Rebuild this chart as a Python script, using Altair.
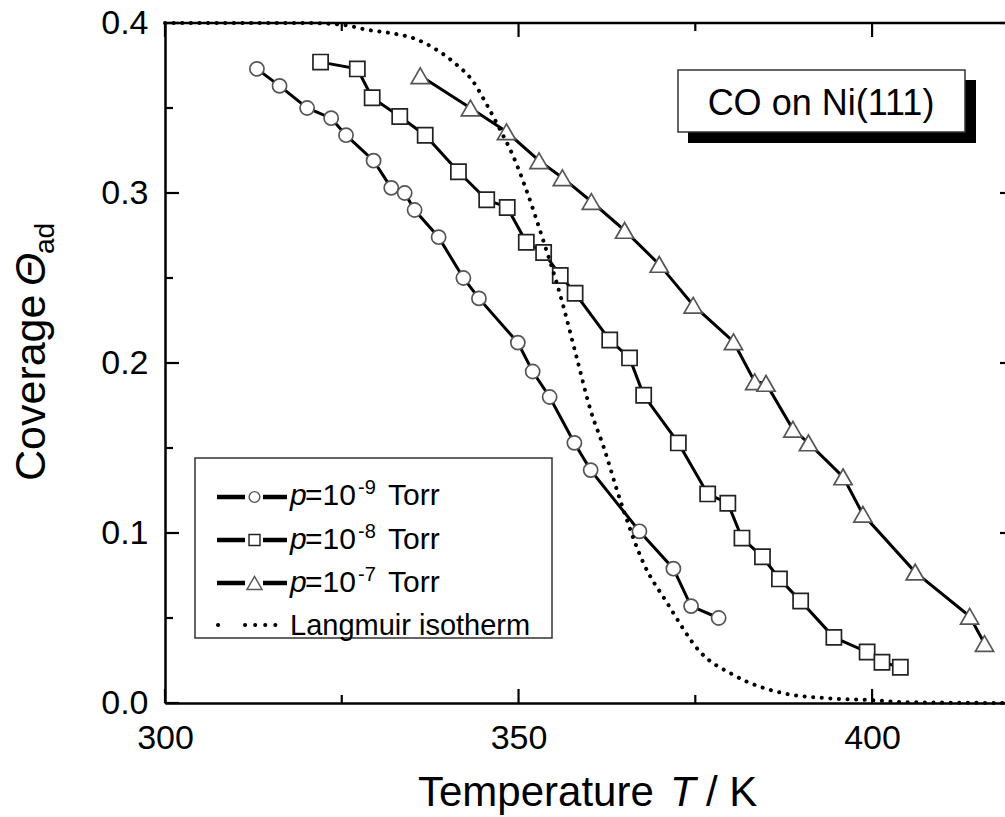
import altair as alt
import pandas as pd

# ---------------- data ----------------
T_p9 = [313.0, 316.2, 320.1, 323.5, 325.6, 329.5, 332.0, 333.9, 335.3, 338.7,
        342.2, 344.4, 349.9, 352.0, 354.4, 357.9, 360.2, 367.1, 371.9, 374.4, 378.3]
C_p9 = [0.373, 0.363, 0.350, 0.344, 0.334, 0.319, 0.303, 0.300, 0.290, 0.274,
        0.250, 0.238, 0.212, 0.195, 0.180, 0.153, 0.137, 0.101, 0.079, 0.057, 0.050]

T_p8 = [322.0, 327.2, 329.3, 333.2, 336.8, 341.5, 345.5, 348.4, 351.1, 353.55,
        355.9, 358.0, 362.9, 365.7, 367.7, 372.6, 376.75, 379.6, 381.6, 384.5,
        386.9, 389.9, 394.6, 399.3, 401.4, 404.0]
C_p8 = [0.377, 0.373, 0.356, 0.345, 0.334, 0.3125, 0.296, 0.2915, 0.271, 0.265,
        0.2515, 0.241, 0.2135, 0.203, 0.181, 0.153, 0.123, 0.1175, 0.097, 0.086,
        0.073, 0.060, 0.0386, 0.030, 0.024, 0.021]

T_p7 = [336.1, 343.2, 348.3, 352.9, 356.2, 360.3, 365.0, 369.9, 374.7, 380.4,
        383.4, 385.0, 388.8, 391.0, 395.9, 398.7, 406.1, 413.8, 415.9]
C_p7 = [0.369, 0.350, 0.336, 0.319, 0.309, 0.295, 0.278, 0.258, 0.234, 0.2125,
        0.189, 0.188, 0.161, 0.153, 0.133, 0.111, 0.077, 0.051, 0.035]

T_lang = [300.0, 320.0, 325.0, 328.6, 332.0, 335.2, 338.5, 341.1, 343.5, 345.5,
          347.3, 349.1, 351.0, 353.5, 355.9, 358.3, 360.2, 362.0, 364.4, 367.7,
          371.0, 375.7, 380.4, 387.5, 393.0, 399.3, 405.0, 418.8]
C_lang = [0.400, 0.400, 0.399, 0.396, 0.394, 0.391, 0.384, 0.376, 0.366, 0.352,
          0.338, 0.323, 0.303, 0.272, 0.240, 0.202, 0.172, 0.151, 0.119, 0.082,
          0.059, 0.030, 0.0165, 0.0057, 0.003, 0.0018, 0.0005, 0.0]

x_ticks_major = [300, 350, 400]
x_ticks_minor = [325, 375]
y_ticks_major = [0.0, 0.1, 0.2, 0.3, 0.4]
y_ticks_minor = [0.05, 0.15, 0.25, 0.35]

legend_labels = ["=10", "=10", "=10"]
legend_exponents = ["-9", "-8", "-7"]

# ---------------- layout ----------------
FONT = "Liberation Sans"
W, H = 840, 680
X_DOM = [300, 418.8]
Y_DOM = [0, 0.4]
xs = alt.Scale(domain=X_DOM, nice=False, zero=False)
ys = alt.Scale(domain=Y_DOM, nice=False, zero=False)

x_axis = alt.Axis(values=x_ticks_major, ticks=False, grid=False, domain=True,
                  domainColor="black", domainWidth=2.5, labelFont=FONT,
                  labelFontSize=34, labelColor="black", labelPadding=18,
                  labelFlush=False, title=None, format="d")
y_axis = alt.Axis(values=y_ticks_major, ticks=False, grid=False, domain=True,
                  domainColor="black", domainWidth=2.5, labelFont=FONT,
                  labelFontSize=34, labelColor="black", labelPadding=17,
                  labelFlush=False, title=None, format=".1f")

def X(field):
    return alt.X(field, type="quantitative", scale=xs, axis=x_axis)

def Y(field):
    return alt.Y(field, type="quantitative", scale=ys, axis=y_axis)

series = pd.concat([
    pd.DataFrame({"T": T_p9, "C": C_p9, "s": "p9"}),
    pd.DataFrame({"T": T_p8, "C": C_p8, "s": "p8"}),
    pd.DataFrame({"T": T_p7, "C": C_p7, "s": "p7"}),
])
lang = pd.DataFrame({"T": T_lang, "C": C_lang})

lines = alt.Chart(series).mark_line(color="black", strokeWidth=3,
                                    interpolate="linear").encode(
    x=X("T"), y=Y("C"), detail="s:N")

def pts(name, shape, size, stroke):
    d = series[series.s == name]
    return alt.Chart(d).mark_point(shape=shape, size=size, filled=False,
                                   fill="white", fillOpacity=1, opacity=1,
                                   stroke=stroke, strokeWidth=1.7).encode(
        x=X("T"), y=Y("C"))

p9 = pts("p9", "circle", 200, "#555555")
p8 = pts("p8", "square", 230, "#222222")
p7 = pts("p7", "triangle-up", 330, "#555555")

dotted = alt.Chart(lang).mark_line(color="black", strokeWidth=4,
                                   strokeDash=[0.1, 8.5], strokeCap="round",
                                   interpolate="monotone").encode(
    x=X("T"), y=Y("C"))

one = pd.DataFrame({"a": [0]})

# top spine
top_spine = alt.Chart(one).mark_rule(color="black", strokeWidth=2.5).encode(
    x=alt.value(0), x2=alt.value(W), y=alt.value(0))

# inward ticks (positions through the scales)
xt_maj = pd.DataFrame({"v": x_ticks_major})
xt_min = pd.DataFrame({"v": x_ticks_minor})
yt_maj = pd.DataFrame({"v": y_ticks_major})
yt_min = pd.DataFrame({"v": y_ticks_minor})

def xtick(df, y0, y1):
    return alt.Chart(df).mark_rule(color="black", strokeWidth=2.2).encode(
        x=X("v"), y=alt.value(y0), y2=alt.value(y1))

def ytick(df, x0, x1):
    return alt.Chart(df).mark_rule(color="black", strokeWidth=2.2).encode(
        y=Y("v"), x=alt.value(x0), x2=alt.value(x1))

ticks = [
    xtick(xt_maj, H, H - 14), xtick(xt_min, H, H - 8),
    xtick(xt_maj, 0, 14), xtick(xt_min, 0, 8),
    ytick(yt_maj, 0, 14), ytick(yt_min, 0, 8),
    ytick(yt_maj, W - 5, W),
]

def txt(s, x, y, size, style="normal", angle=0, align="left", baseline="alphabetic"):
    return alt.Chart(one).mark_text(text=s, font=FONT, fontSize=size,
                                    fontStyle=style, angle=angle, align=align,
                                    baseline=baseline, color="black").encode(
        x=alt.value(x), y=alt.value(y))

def rect(x0, x1, y0, y1, fill, stroke=None, sw=0):
    kw = dict(fill=fill, strokeWidth=sw)
    if stroke:
        kw["stroke"] = stroke
    return alt.Chart(one).mark_rect(**kw).encode(
        x=alt.value(x0), x2=alt.value(x1), y=alt.value(y0), y2=alt.value(y1))

def seg(x0, x1, y, width=4, dash=None):
    kw = dict(color="black", strokeWidth=width)
    if dash:
        kw.update(strokeDash=dash, strokeCap="round")
    return alt.Chart(one).mark_rule(**kw).encode(
        x=alt.value(x0), x2=alt.value(x1), y=alt.value(y))

def mk(x, y, shape, size, stroke):
    return alt.Chart(one).mark_point(shape=shape, size=size, filled=False,
                                     fill="white", fillOpacity=1, opacity=1,
                                     stroke=stroke, strokeWidth=1.4).encode(
        x=alt.value(x), y=alt.value(y))

# ---- title box "CO on Ni(111)"
box = [
    rect(523, 811, 57, 120, "black"),
    rect(513, 800, 47, 109, "white", "#333333", 1.5),
    txt("CO on Ni(111)", 656, 92, 36, align="center"),
]

# ---- legend
leg = [rect(30, 387, 435, 615, "white", "#333333", 1.5)]
row_mid = [474, 517, 560]
row_base = [482, 526, 569]
shapes = [("circle", 115, "#555555"), ("square", 120, "#222222"),
          ("triangle-up", 230, "#555555")]
for i in range(3):
    leg += [seg(52, 80, row_mid[i], 4.5), seg(98, 122, row_mid[i], 4.5),
            mk(89.5, row_mid[i], *shapes[i]),
            txt("p", 125, row_base[i], 30, style="italic"),
            txt(legend_labels[i], 140, row_base[i], 30),
            txt(legend_exponents[i], 193, row_base[i] - 11, 20),
            txt("Torr", 223, row_base[i], 30)]
leg += [seg(53, 62, 602, 4, [0.1, 9.2]), seg(80, 120, 602, 4, [0.1, 10]),
        txt("Langmuir isotherm", 125, 612, 29)]

# ---- axis titles
titles = [
    txt("Temperature", 253, 783, 42),
    txt("T", 505, 783, 42, style="italic"),
    txt("/ K", 541, 783, 42),
    txt("Coverage", -120, 458, 43, angle=270),
    txt("Θ", -120, 263, 43, style="italic", angle=270),
    txt("ad", -111, 231, 28, angle=270),
]

chart = alt.layer(
    lines, p9, p8, p7, dotted, top_spine, *ticks, *box, *leg, *titles
).properties(
    width=W, height=H,
    autosize=alt.AutoSizeParams(type="none"),
    padding={"left": 165, "top": 23, "right": 0, "bottom": 114},
).configure_view(stroke=None).configure(background="white")

chart.save("out.html", embed_options={"renderer": "svg", "actions": False})
